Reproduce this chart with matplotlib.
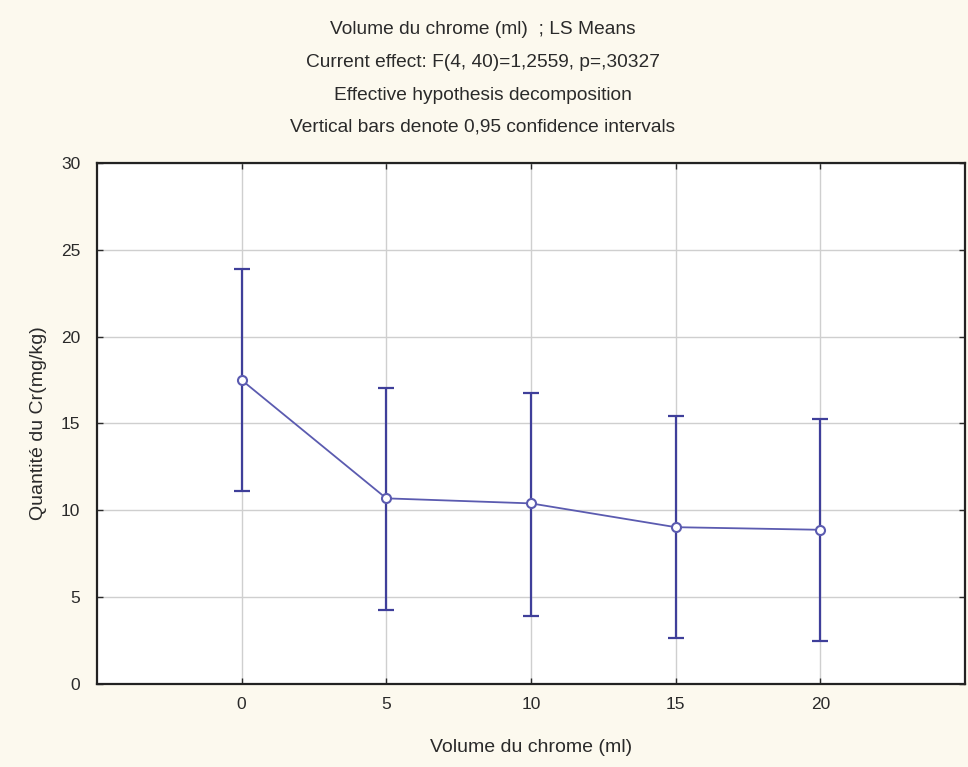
import matplotlib

matplotlib.use("Agg")
import matplotlib.pyplot as plt
import numpy as np

# LS means and 0.95 confidence limits
volumes = ["0", "5", "10", "15", "20"]
means = [17.50, 10.69, 10.40, 9.03, 8.88]
upper = [23.87, 17.06, 16.73, 15.44, 15.26]
lower = [11.09, 4.26, 3.91, 2.64, 2.47]

title_lines = [
    "Volume du chrome (ml)  ; LS Means",
    "Current effect: F(4, 40)=1,2559, p=,30327",
    "Effective hypothesis decomposition",
    "Vertical bars denote 0,95 confidence intervals",
]

BG = "#fcf9ee"
C_BAR = "#3f3f9a"
C_LINE = "#5b5bb0"
C_TEXT = "#2a2a2a"

plt.rcParams["font.family"] = ["Liberation Sans", "DejaVu Sans"]

fig = plt.figure(figsize=(9.68, 7.67), dpi=100, facecolor=BG)
ax = fig.add_axes([0.1002, 0.1082, 0.8967, 0.6793])
ax.set_facecolor("white")

x = np.arange(len(volumes))
m = np.array(means)
yerr = [m - np.array(lower), np.array(upper) - m]

ax.plot(x, m, color=C_LINE, lw=1.3, zorder=3)
ax.errorbar(
    x, m, yerr=yerr, fmt="none", ecolor=C_BAR, elinewidth=1.6,
    capsize=5.5, capthick=1.6, zorder=2,
)
ax.plot(x, m, "o", ms=6.5, mfc="white", mec=C_LINE, mew=1.5, zorder=4)

ax.set_xlim(-1, 5)
ax.set_ylim(0, 30)
ax.set_xticks(x)
ax.set_xticklabels(volumes)
ax.set_yticks(range(0, 31, 5))
ax.tick_params(direction="in", length=4, width=1, top=True, right=True,
               labelsize=12.5, colors=C_TEXT, pad=12)
ax.tick_params(axis="x", pad=9)
ax.grid(color="#cfcfcf", lw=1)
ax.set_axisbelow(True)
for s in ax.spines.values():
    s.set_linewidth(1.6)
    s.set_color("#222222")

ax.set_xlabel("Volume du chrome (ml)", fontsize=14, labelpad=20, color=C_TEXT)
ax.set_ylabel("Quantité du Cr(mg/kg)", fontsize=14, labelpad=10, color=C_TEXT)

for i, line in enumerate(title_lines):
    fig.text(0.499, 1 - (30 + 32.5 * i) / 767, line, ha="center", va="center",
             fontsize=13.8, color=C_TEXT)

fig.savefig("out.png", dpi=100, facecolor=BG)
